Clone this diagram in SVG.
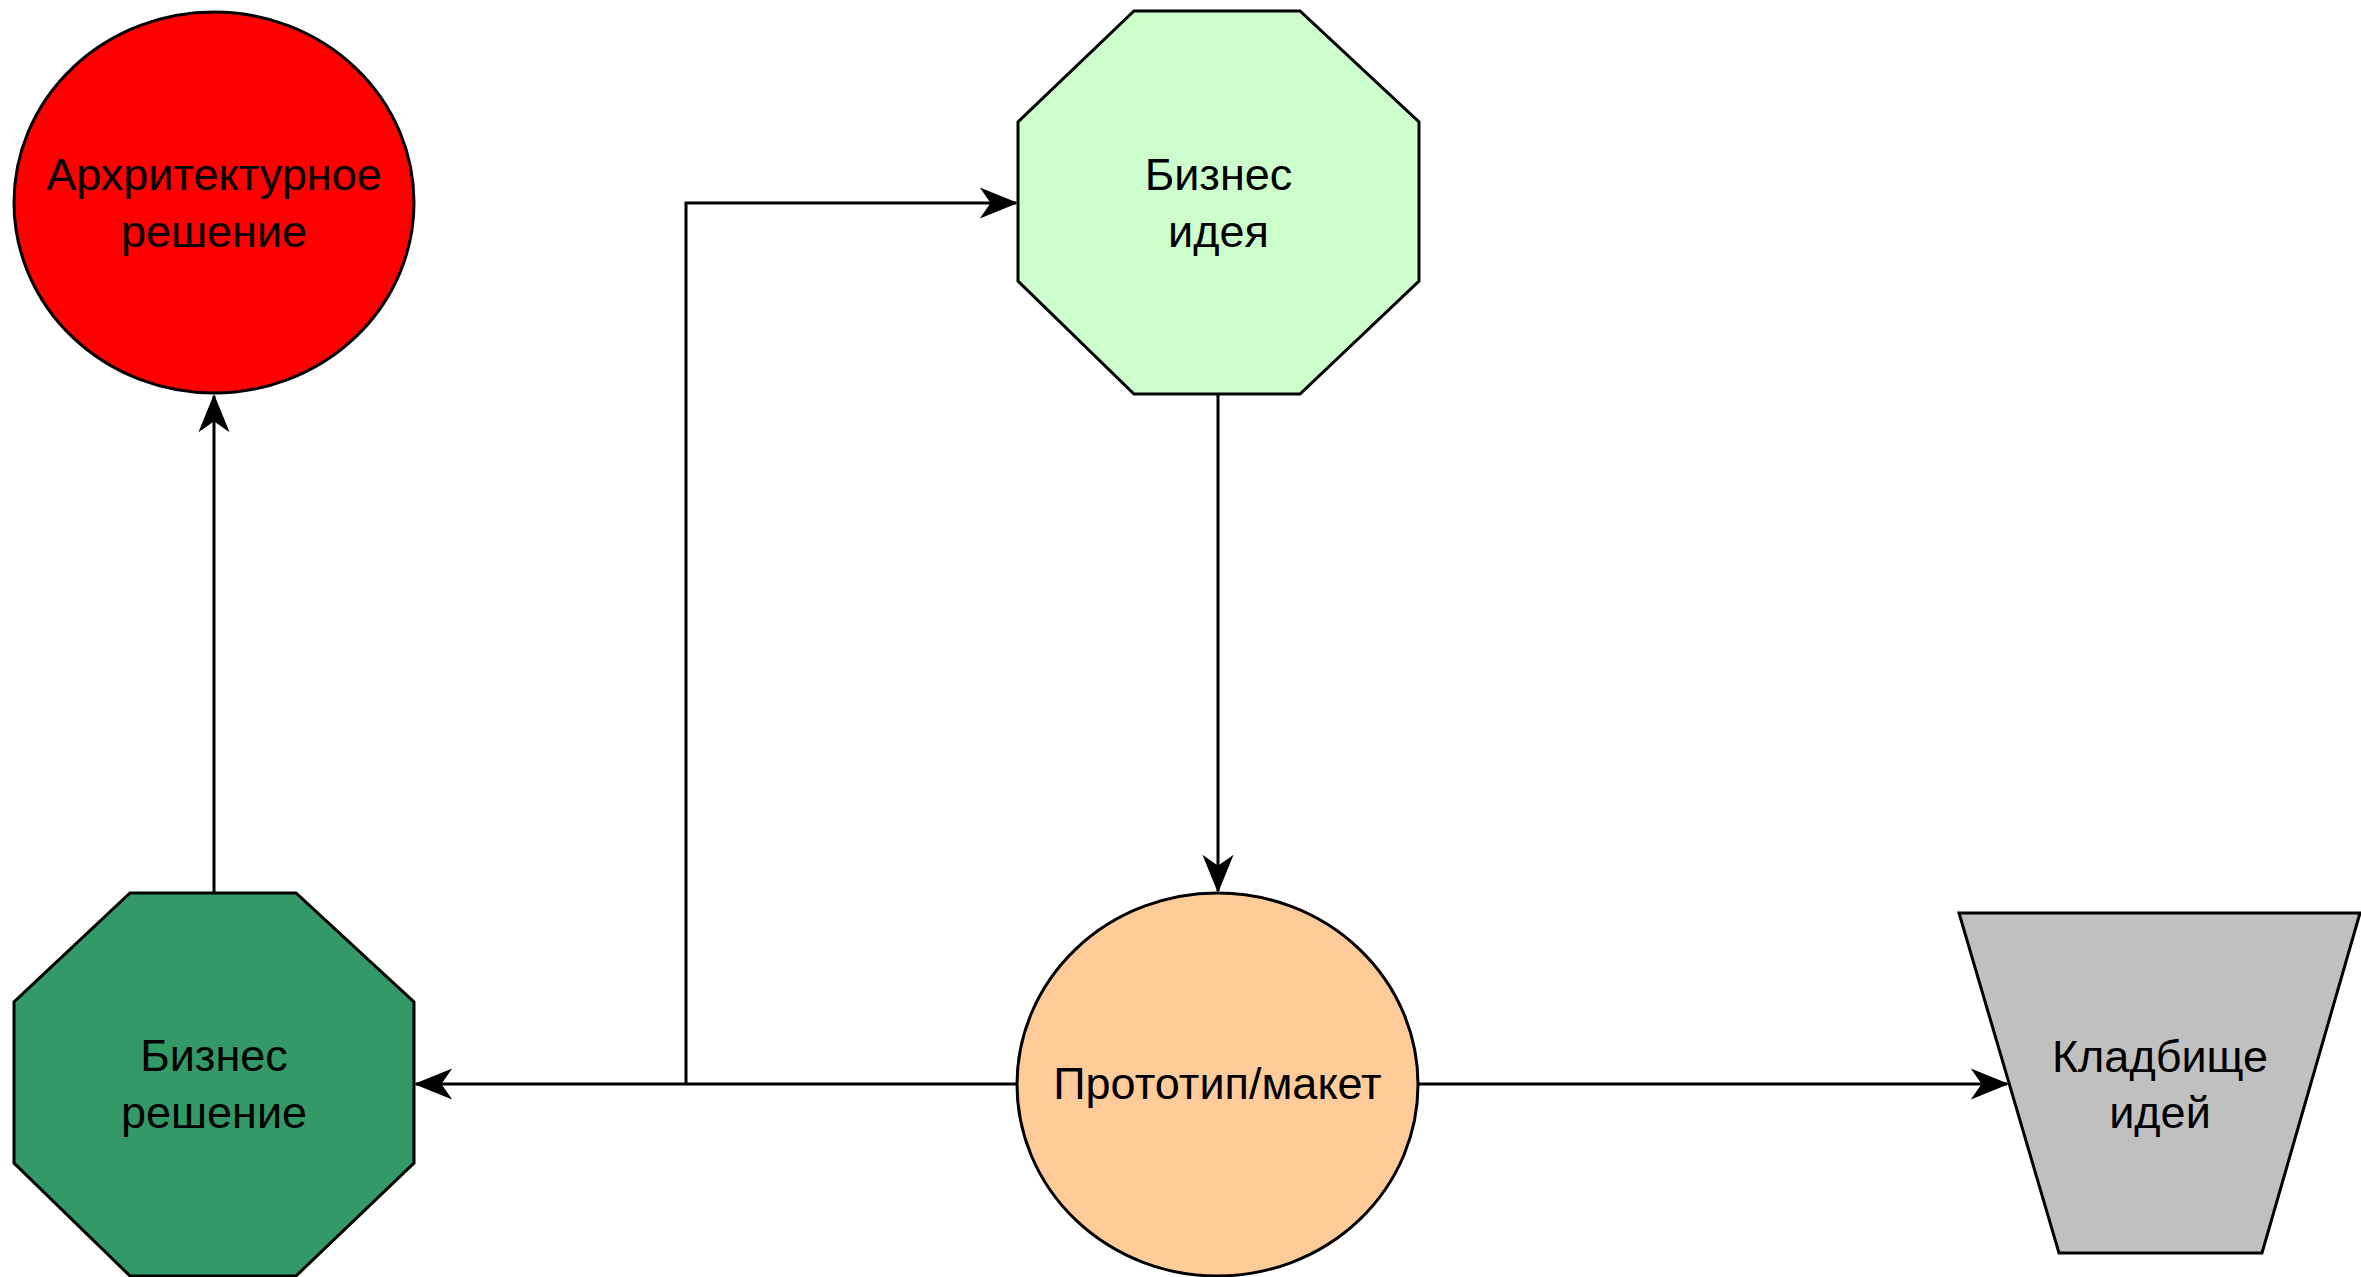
<svg xmlns="http://www.w3.org/2000/svg" width="2361" height="1277" viewBox="0 0 2361 1277">
<style>
.node{stroke:#000;stroke-width:3}
.lbl{font-family:"Liberation Sans",Arial,sans-serif;font-size:45px;fill:#000;text-anchor:middle}
.edge{fill:none;stroke:#000;stroke-width:3}
</style>
<defs>
<marker id="arr" markerUnits="userSpaceOnUse" markerWidth="40" markerHeight="34" viewBox="-34 -16 36 32" refX="0" refY="0" orient="auto">
<path d="M0,0 L-32,-13 L-23,0 L-32,13 Z" fill="#000" stroke="#000" stroke-width="1.5" stroke-linejoin="miter"/>
</marker>
</defs>
<rect width="2361" height="1277" fill="#fff"/>
<g id="connectors">
<path class="edge" d="M214,893 L214,396" marker-end="url(#arr)"/>
<path class="edge" d="M1218,394 L1218,891" marker-end="url(#arr)"/>
<path class="edge" d="M1017,1084 L416,1084" marker-end="url(#arr)"/>
<path class="edge" d="M686,1084 L686,203 L1016,203" marker-end="url(#arr)"/>
<path class="edge" d="M1418,1084 L2007,1084" marker-end="url(#arr)"/>
</g>
<g id="arch">
<ellipse class="node" cx="214" cy="202.5" rx="200" ry="190.5" fill="#FF0000"/>
<text class="lbl" x="214" y="190">Архритектурное</text>
<text class="lbl" x="214" y="247">решение</text>
</g>
<g id="idea">
<polygon class="node" points="1134,11 1300,11 1419,122 1419,281 1300,394 1134,394 1018,281 1018,122" fill="#CCFFCC"/>
<text class="lbl" x="1218.5" y="190">Бизнес</text>
<text class="lbl" x="1218.5" y="247">идея</text>
</g>
<g id="solution">
<polygon class="node" points="130,893 296,893 414,1002 414,1163 296,1276 130,1276 14,1163 14,1002" fill="#339966"/>
<text class="lbl" x="214" y="1071">Бизнес</text>
<text class="lbl" x="214" y="1128">решение</text>
</g>
<g id="prototype">
<ellipse class="node" cx="1217.5" cy="1084.5" rx="200.5" ry="191.5" fill="#FFCC99"/>
<text class="lbl" x="1217.5" y="1099">Прототип/макет</text>
</g>
<g id="graveyard">
<polygon class="node" points="1959,913 2360,913 2262,1253 2059,1253" fill="#C0C0C0"/>
<text class="lbl" x="2160" y="1072">Кладбище</text>
<text class="lbl" x="2160" y="1128">идей</text>
</g>
</svg>
